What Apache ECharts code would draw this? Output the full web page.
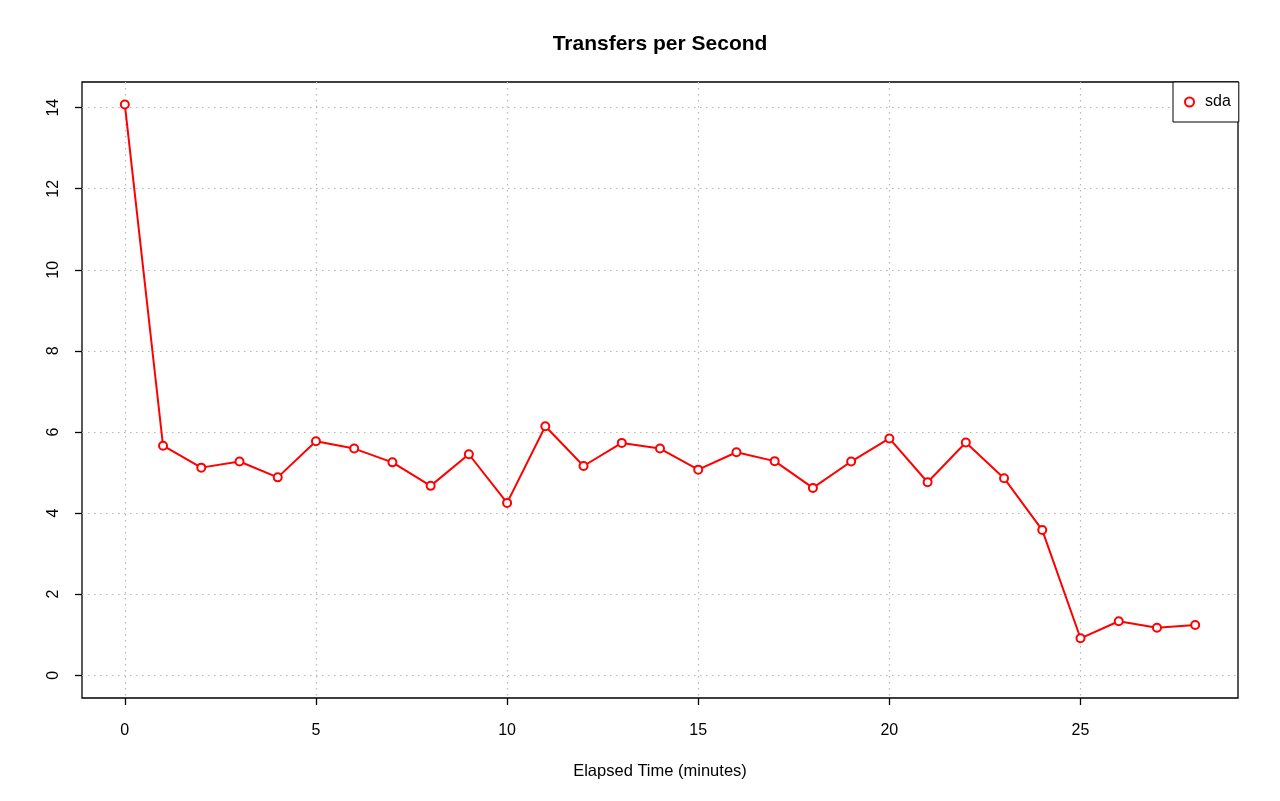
<!DOCTYPE html>
<html>
<head>
<meta charset="utf-8">
<script src="https://cdn.jsdelivr.net/npm/echarts@6/dist/echarts.min.js"></script>
<style>
html,body{margin:0;padding:0;background:#fff;}
#c{width:1280px;height:801px;}
</style>
</head>
<body>
<div id="c"></div>
<script>
const minutes = [0,1,2,3,4,5,6,7,8,9,10,11,12,13,14,15,16,17,18,19,20,21,22,23,24,25,26,27,28];
const sda = [14.08,5.66,5.12,5.27,4.88,5.77,5.59,5.25,4.67,5.45,4.25,6.14,5.16,5.73,5.59,5.07,5.50,5.28,4.62,5.27,5.84,4.76,5.74,4.86,3.58,0.91,1.33,1.17,1.24];
const xTicks = [0,5,10,15,20,25];
const yTicks = [0,2,4,6,8,10,12,14];

const FONT = "'Liberation Sans', Arial, sans-serif";
const chart = echarts.init(document.getElementById('c'), null, {renderer:'canvas'});
const gridSplit = {show:true, lineStyle:{color:'#b8b8b8', type:[1.5,4.5], width:1.2}};
chart.setOption({
  animation:false,
  backgroundColor:'#fff',
  title:{
    text:'Transfers per Second', left:655, top:29, textAlign:'center',
    textStyle:{fontFamily:FONT, fontWeight:'bold', fontSize:21, color:'#000'}
  },
  legend:{
    data:[{name:'sda', icon:'emptyCircle'}],
    left:1173, top:82, orient:'vertical',
    itemWidth:9, itemHeight:9, itemGap:0,
    padding:[12,8,12,11],
    borderColor:'#000', borderWidth:1, backgroundColor:'#fff',
    textStyle:{fontFamily:FONT, fontSize:16, color:'#000', padding:[0,0,0,6]}
  },
  grid:{left:82, top:82, width:1156, height:616, show:true, borderColor:'#000', borderWidth:1.3, backgroundColor:'transparent'},
  xAxis:{
    type:'value', min:-1.12, max:29.12,
    name:'Elapsed Time (minutes)', nameLocation:'middle', nameGap:65,
    nameTextStyle:{fontFamily:FONT, fontSize:16.5, color:'#000'},
    axisLine:{show:false, onZero:false},
    axisTick:{show:true, customValues:xTicks, length:7, lineStyle:{color:'#000', width:1.3}},
    axisLabel:{customValues:xTicks, margin:25, fontFamily:FONT, fontSize:16, color:'#000'},
    splitLine:gridSplit
  },
  yAxis:{
    type:'value', min:-0.563, max:14.633,
    axisLine:{show:false, onZero:false},
    axisTick:{show:true, customValues:yTicks, length:7, lineStyle:{color:'#000', width:1.3}},
    axisLabel:{customValues:yTicks, rotate:90, margin:20, fontFamily:FONT, fontSize:16, color:'#000'},
    splitLine:gridSplit
  },
  series:[{
    name:'sda', type:'line',
    data:minutes.map((m,i)=>[m, sda[i]]),
    symbol:'emptyCircle', symbolSize:8,
    itemStyle:{color:'#ff0000', borderWidth:2},
    lineStyle:{color:'#ff0000', width:2},
    z:3
  }]
});
</script>
</body>
</html>
